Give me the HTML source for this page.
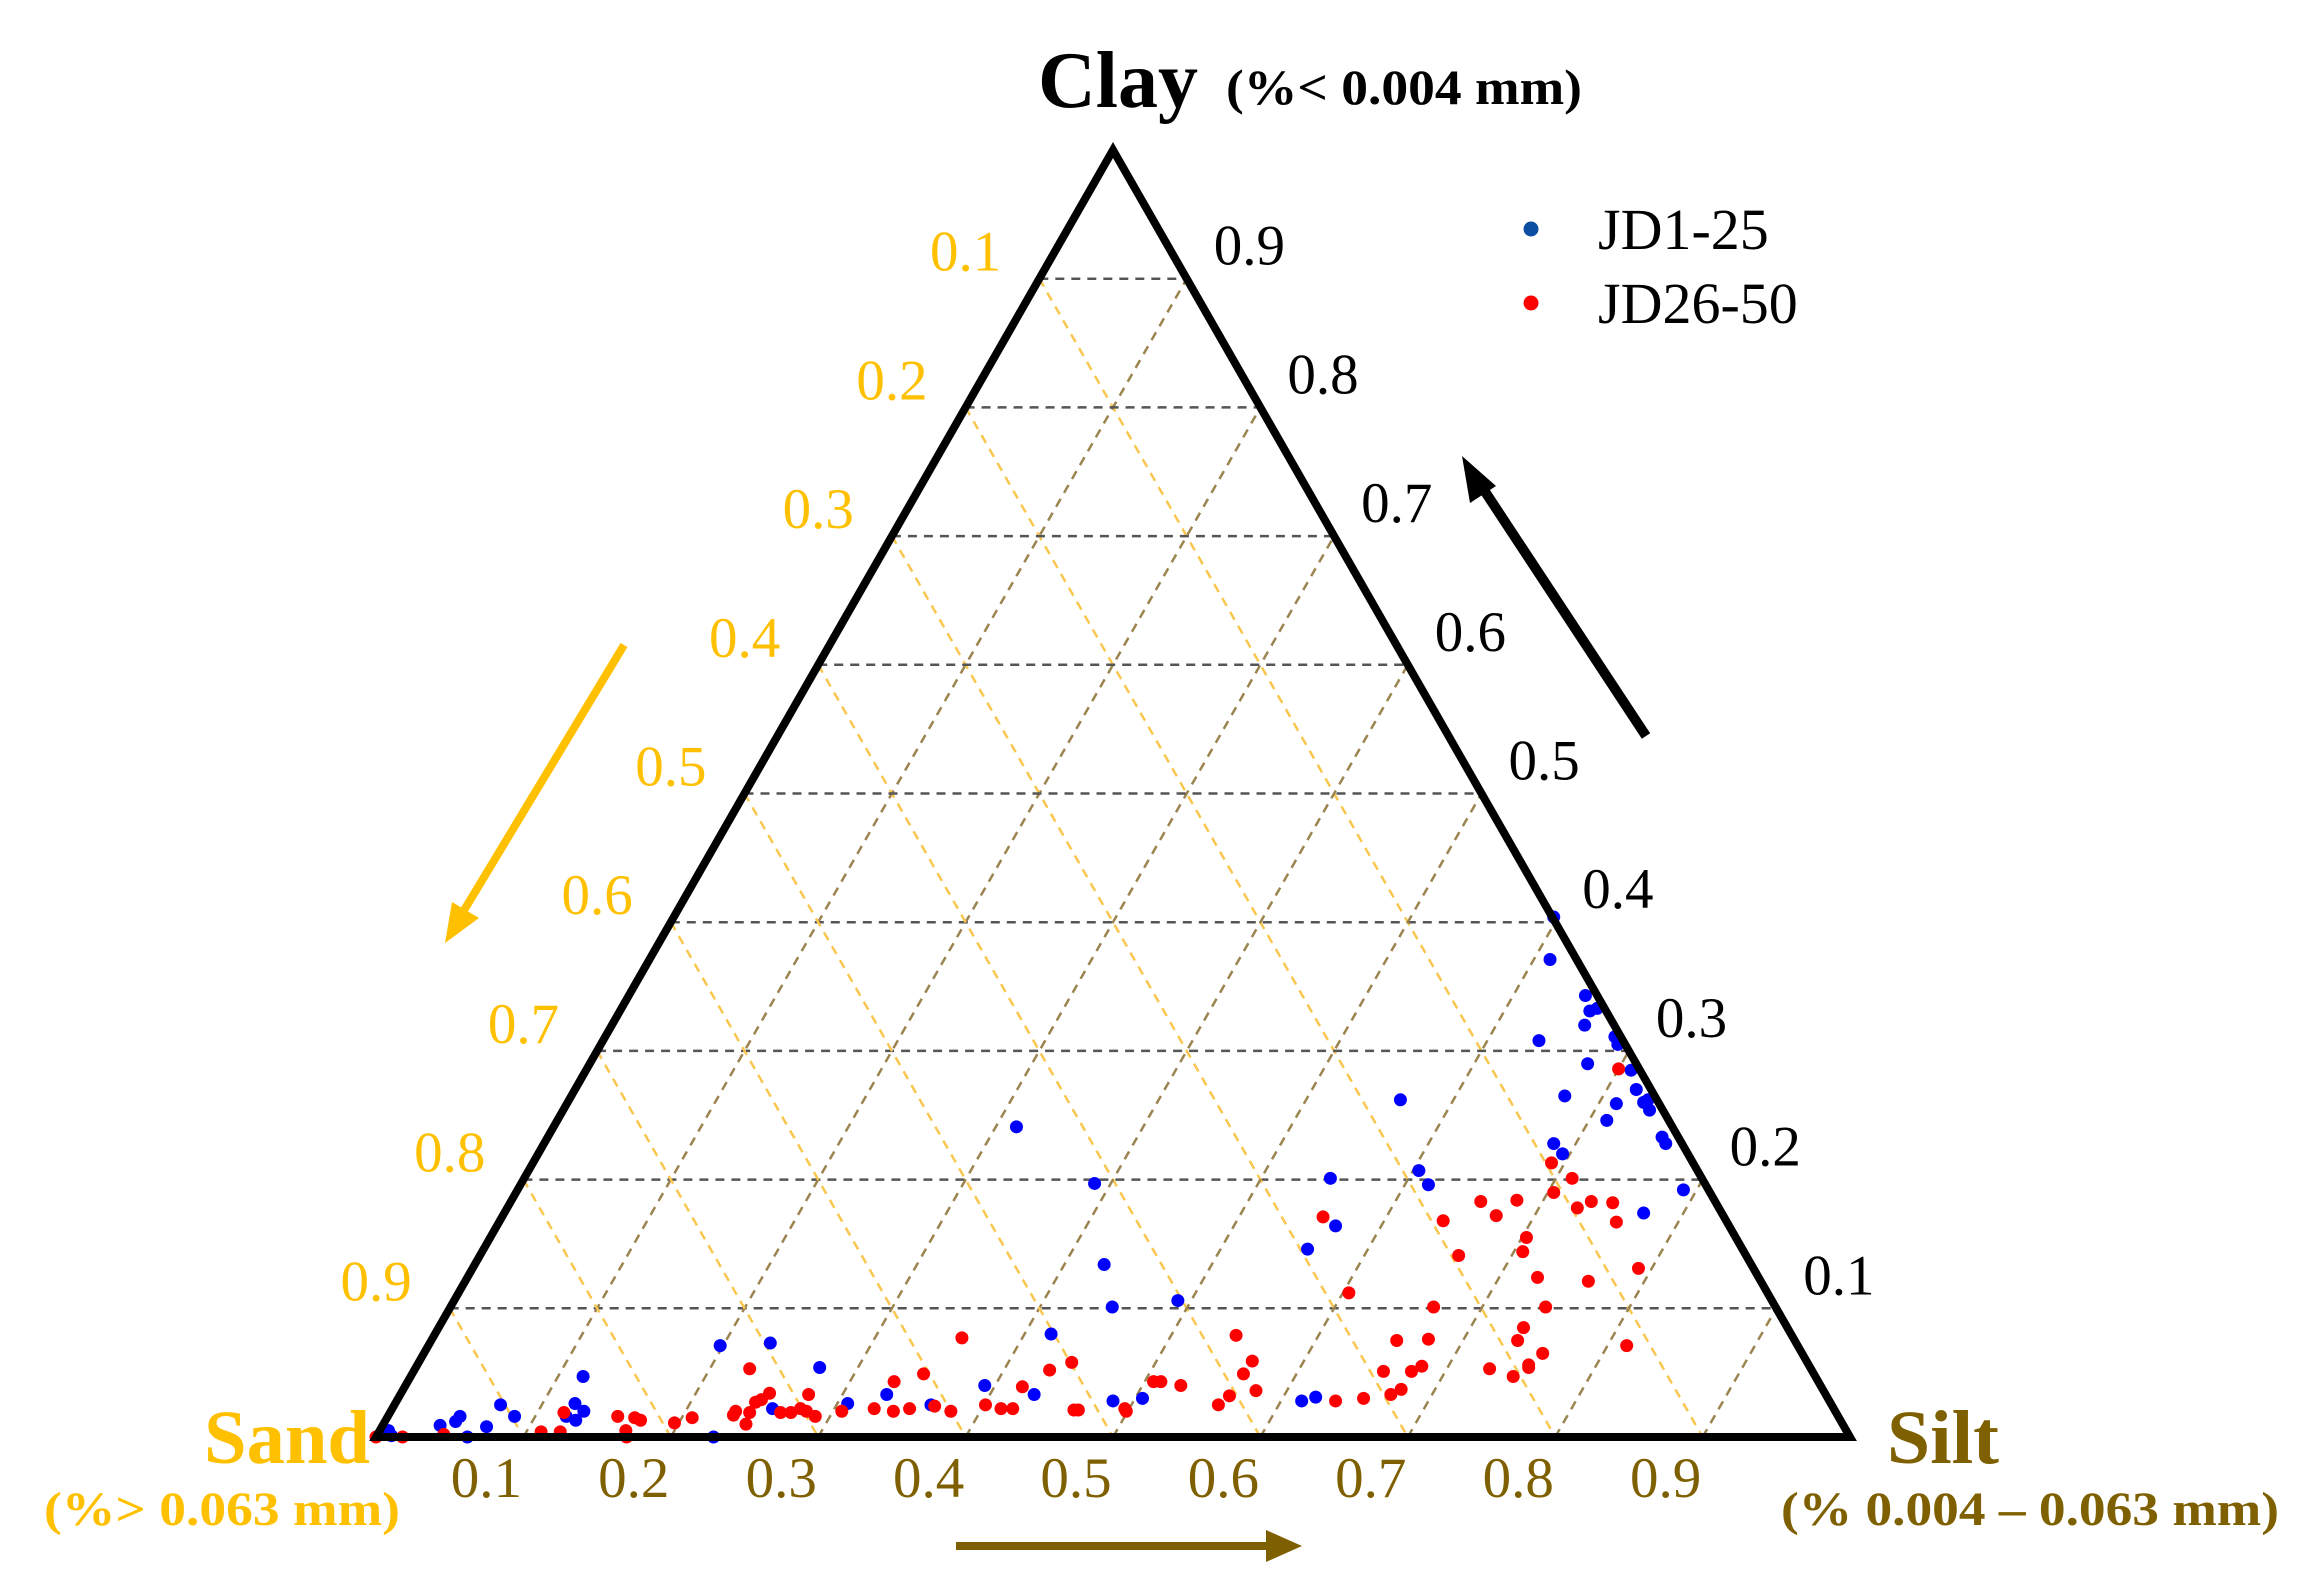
<!DOCTYPE html>
<html><head><meta charset="utf-8"><style>
html,body{margin:0;padding:0;background:#fff;}
svg{display:block;}
</style></head><body>
<svg id="chart" width="2319" height="1591" viewBox="0 0 2319 1591" xmlns="http://www.w3.org/2000/svg">
<g id="grid"></g>
<g id="points"></g>
<polygon points="376,1437 1113,150 1850,1437" fill="none" stroke="#000" stroke-width="8" stroke-linejoin="miter"/>
<g id="labels"></g>
<text x="1038" y="107" font-family="Liberation Serif, serif" font-weight="bold" font-size="80" fill="#000">Clay</text>
<text x="1226" y="104" font-family="Liberation Serif, serif" font-weight="bold" font-size="50" fill="#000" textLength="356" lengthAdjust="spacingAndGlyphs">(%&lt; 0.004 mm)</text>
<text x="204" y="1463" font-family="Liberation Serif, serif" font-weight="bold" font-size="76" fill="#FFC000" textLength="166" lengthAdjust="spacingAndGlyphs">Sand</text>
<text x="44" y="1525" font-family="Liberation Serif, serif" font-weight="bold" font-size="48" fill="#FFC000" textLength="356" lengthAdjust="spacingAndGlyphs">(%&gt; 0.063 mm)</text>
<text x="1887" y="1463" font-family="Liberation Serif, serif" font-weight="bold" font-size="76" fill="#7F6000" textLength="112" lengthAdjust="spacingAndGlyphs">Silt</text>
<text x="1781" y="1525" font-family="Liberation Serif, serif" font-weight="bold" font-size="48" fill="#7F6000" textLength="498" lengthAdjust="spacingAndGlyphs">(% 0.004 – 0.063 mm)</text>
<g>
<circle cx="1531" cy="229" r="7.5" fill="#0B4EA2"/>
<text x="1598" y="249" font-family="Liberation Serif, serif" font-size="58" fill="#000">JD1-25</text>
<circle cx="1531" cy="303" r="7.5" fill="#FF0000"/>
<text x="1598" y="323" font-family="Liberation Serif, serif" font-size="58" fill="#000">JD26-50</text>
</g>
<g>
<line x1="1646" y1="736" x2="1482" y2="487" stroke="#000" stroke-width="10"/>
<polygon points="1462,456 1496,486 1470,503" fill="#000"/>
</g>
<g>
<line x1="624" y1="645" x2="463" y2="912" stroke="#FFC000" stroke-width="8"/>
<polygon points="445,943 452,902 479,918" fill="#FFC000"/>
</g>
<g>
<line x1="956" y1="1546" x2="1270" y2="1546" stroke="#7F6000" stroke-width="8"/>
<polygon points="1302,1546 1266,1530 1266,1562" fill="#7F6000"/>
</g>
</svg>
<script>
const blueClay = [.003,.001,.005,.009,.012,.016,0,.008,.025,.016,.047,.026,.020,.016,.013,.071,.073,.054,0,.022,.026,.033,.101,.106,.080,.040,.033,.025,.028,.030,.028,.031,.241,.197,.134,.201,.164,.146,.262,.207,.196,.404,.371,.343,.331,.333,.320,.308,.311,.305,.290,.285,.265,.270,.260,.262,.254,.259,.246,.233,.228,.228,.220,.192,.174];
const blueSilt = [.004,.010,.006,.039,.048,.049,.062,.071,.072,.086,.117,.122,.131,.121,.129,.198,.231,.274,.229,.258,.307,.330,.449,.491,.418,.393,.430,.364,.486,.505,.614,.622,.314,.389,.427,.547,.569,.559,.564,.604,.616,.597,.611,.649,.658,.662,.660,.635,.685,.690,.677,.709,.674,.720,.730,.732,.737,.712,.712,.756,.761,.685,.695,.791,.773];
const redClay = [0,0,.002,.004,.004,.019,.016,.005,0,.015,.013,.011,.015,.053,.020,.017,.010,.019,.027,.029,.034,.019,.019,.022,.020,.033,.016,.020,.022,.043,.020,.022,.049,.077,.024,.020,.025,.022,.022,.039,.052,.058,.021,.021,.022,.020,.043,.043,.040,.079,.059,.049,.036,.032,.025,.028,.030,.075,.076,.051,.051,.055,.033,.037,.101,.171,.112,.168,.141,.183,.172,.286,.213,.201,.190,.184,.178,.183,.182,.167,.155,.144,.124,.121,.131,.101,.085,.075,.065,.056,.054,.053,.047,.071];
const redSilt = [0,.018,.045,.110,.123,.118,.156,.167,.170,.168,.173,.197,.207,.227,.234,.234,.246,.244,.244,.247,.250,.265,.272,.277,.282,.277,.290,.306,.327,.330,.341,.351,.347,.359,.367,.380,.401,.413,.421,.419,.431,.443,.463,.466,.497,.499,.506,.511,.526,.544,.565,.564,.579,.563,.559,.637,.655,.655,.676,.658,.677,.682,.672,.677,.667,.557,.604,.640,.664,.658,.674,.700,.691,.711,.704,.682,.726,.733,.748,.758,.703,.706,.726,.762,.791,.743,.736,.737,.759,.754,.755,.729,.748,.813];
const gridLevels = [0.1,0.2,0.3,0.4,0.5,0.6,0.7,0.8,0.9];
const tickLabels = ["0.1","0.2","0.3","0.4","0.5","0.6","0.7","0.8","0.9"];

const NS = "http://www.w3.org/2000/svg";
const X0 = 376, Y0 = 1437, W = 1474, H = 1287;
function px(clay, silt){ return X0 + silt*W + clay*W/2; }
function py(clay){ return Y0 - clay*H; }
function mk(tag, attrs, parent){
  const e = document.createElementNS(NS, tag);
  for (const k in attrs) e.setAttribute(k, attrs[k]);
  parent.appendChild(e); return e;
}
const grid = document.getElementById('grid');
const pts = document.getElementById('points');
const labels = document.getElementById('labels');
gridLevels.forEach((v, i) => {
  let l = mk('line', {x1:px(v,0), y1:py(v), x2:px(v,1-v), y2:py(v), stroke:'#555', 'stroke-width':2.5, 'stroke-dasharray':'9,7'}, grid);
  
  
  l = mk('line', {x1:px(1-v,0), y1:py(1-v), x2:px(0,1-v), y2:py(0), stroke:'#F9C74F', 'stroke-width':2.5, 'stroke-dasharray':'9,7'}, grid);
  
  
  l = mk('line', {x1:px(0,v), y1:py(0), x2:px(1-v,v), y2:py(1-v), stroke:'#9C8450', 'stroke-width':2.5, 'stroke-dasharray':'9,7'}, grid);
  
  
  let t = mk('text', {x:px(v,1-v)+27, y:py(v)-14, 'font-family':'Liberation Serif, serif', 'font-size':57, fill:'#000'}, labels);
  t.textContent = tickLabels[i];
  
  
  t = mk('text', {x:px(1-v,0)-38, y:py(1-v)-8, 'font-family':'Liberation Serif, serif', 'font-size':57, fill:'#FFC000', 'text-anchor':'end'}, labels);
  t.textContent = tickLabels[i];
  
  
  t = mk('text', {x:px(0,v)-37, y:py(0)+60, 'font-family':'Liberation Serif, serif', 'font-size':57, fill:'#7F6000', 'text-anchor':'middle'}, labels);
  t.textContent = tickLabels[i];
  
  
});
blueClay.forEach((c, i) => {
  const p = mk('circle', {cx:px(c, blueSilt[i]), cy:py(c), r:6.5, fill:'#0000FF'}, pts);
  
  
});
redClay.forEach((c, i) => {
  const p = mk('circle', {cx:px(c, redSilt[i]), cy:py(c), r:6.5, fill:'#FF0000'}, pts);
  
  
});
</script>
</body></html>
